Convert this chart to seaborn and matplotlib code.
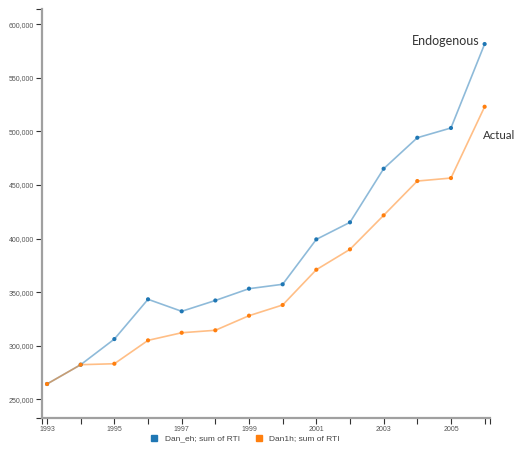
"""
plot.py
Endogenous vs actual sum of RTI, 1993-2006.
"""

import numpy as np
import pandas as pd
import matplotlib
matplotlib.use("Agg")
import matplotlib.pyplot as plt
from matplotlib.lines import Line2D
from matplotlib.ticker import FuncFormatter
import seaborn as sns

# data
years = list(range(1993, 2007))
dan_eh = [264300, 282300, 306200, 343300, 332100, 342200, 353200,
          357300, 399200, 415100, 465100, 494000, 503100, 581400]
dan1h = [264300, 282300, 283200, 305000, 312100, 314400, 328000,
         338000, 370900, 389900, 421600, 453600, 456400, 522900]
series_names = ["Dan_eh; sum of RTI", "Dan1h; sum of RTI"]
y_ticks = [250000, 300000, 350000, 400000, 450000, 500000, 550000, 600000]

df = pd.DataFrame({
    "year": years * 2,
    "value": dan_eh + dan1h,
    "series": [series_names[0]] * len(years) + [series_names[1]] * len(years),
})

BLUE = "#1f77b4"
ORANGE = "#ff7f0e"
palette = {series_names[0]: BLUE, series_names[1]: ORANGE}

sns.set_style("white")
plt.rcParams["font.family"] = ["Liberation Sans", "DejaVu Sans"]

fig = plt.figure(figsize=(5.17, 4.5), dpi=100)
ax = fig.add_axes([42 / 517, 1 - 418.3 / 450, (490 - 42) / 517, (418.3 - 9.3) / 450])

# lines (light) then markers (solid)
sns.lineplot(data=df, x="year", y="value", hue="series", palette=palette,
             linewidth=1.2, alpha=0.5, legend=False, ax=ax)
sns.scatterplot(data=df, x="year", y="value", hue="series", palette=palette,
                s=9, linewidth=0, legend=False, ax=ax, zorder=3)

ax.set_xlim(1992.85, 2006.16)
ax.set_ylim(232300, 613800)
ax.set_xlabel("")
ax.set_ylabel("")

# ticks: every year, labels only on odd years
ax.set_xticks(years)
ax.set_xticklabels([str(y) if (y - 1993) % 2 == 0 else "" for y in years])
ax.set_yticks(y_ticks)
ax.yaxis.set_major_formatter(FuncFormatter(lambda v, p: f"{int(v):,}"))
# outer ticks at the axis ends (d3 style)
ax.set_xticks([1992.85, 2006.16], minor=True)
ax.set_yticks([232300, 613800], minor=True)
ax.tick_params(axis="both", which="both", direction="out", length=4, width=0.8,
               color="#333333", labelsize=5, labelcolor="#555555", pad=1.5)
ax.tick_params(axis="x", which="both", bottom=True)
ax.tick_params(axis="y", which="both", left=True)

for side in ["top", "right"]:
    ax.spines[side].set_visible(False)
for side in ["left", "bottom"]:
    ax.spines[side].set_color("#a0a0a0")
    ax.spines[side].set_linewidth(1.6)

# series labels at the ends of the lines
ax.annotate("Endogenous", xy=(years[-1], dan_eh[-1]), xytext=(-4, 2),
            textcoords="offset points", ha="right", va="center",
            fontsize=9, color="#333333", family=["Lato", "DejaVu Sans"])
ax.annotate("Actual", xy=(years[-1], dan1h[-1]), xytext=(-1.5, -21),
            textcoords="offset points", ha="left", va="center",
            fontsize=8.3, color="#333333", family=["Lato", "DejaVu Sans"],
            annotation_clip=False)

# legend below the plot
handles = [Line2D([], [], marker="s", linestyle="", color=BLUE, markersize=5),
           Line2D([], [], marker="s", linestyle="", color=ORANGE, markersize=5)]
fig.legend(handles, series_names, loc="lower center", ncol=2, frameon=False,
           fontsize=6, handletextpad=0.3, columnspacing=1.2,
           bbox_to_anchor=(0.47, 0.0), labelcolor="#444444")

fig.savefig("out.png", dpi=100, facecolor="white")
plt.close(fig)
